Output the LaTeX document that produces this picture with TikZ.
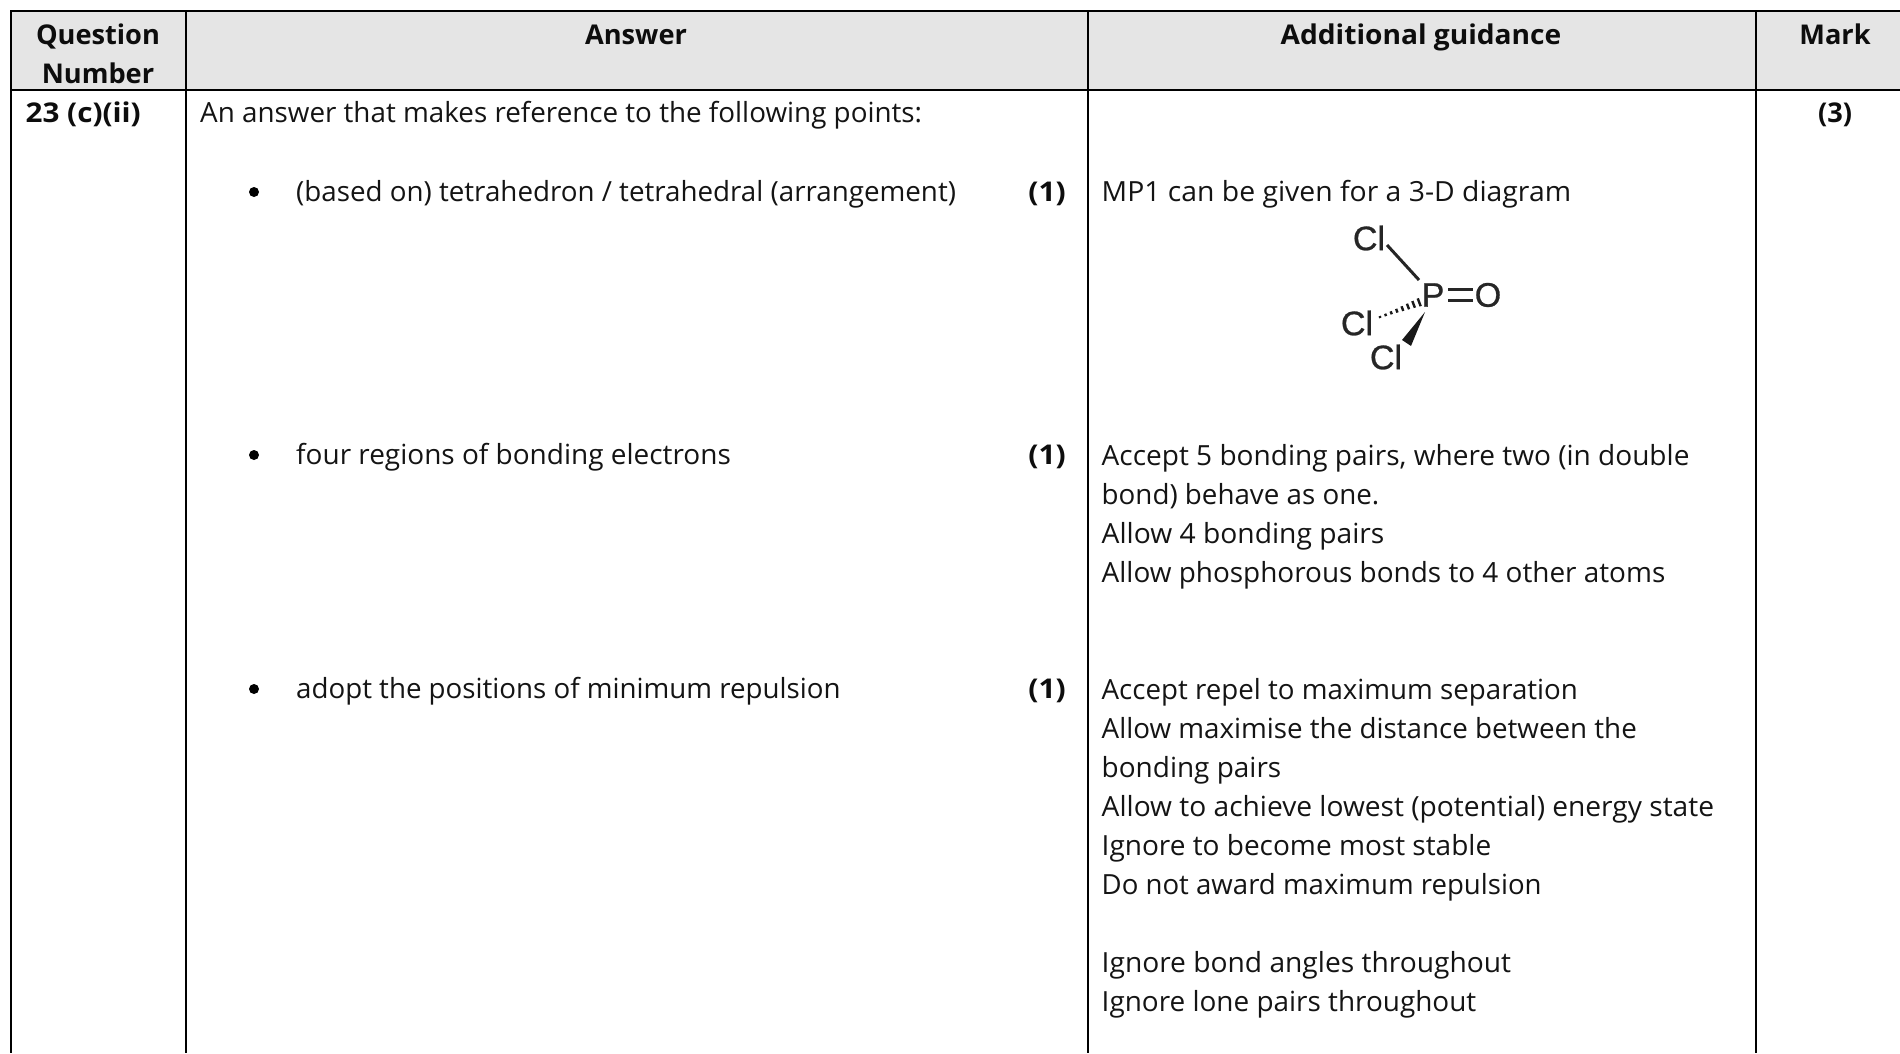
\documentclass[tikz,border=0pt]{standalone}
\usepackage{fontspec}
\usepackage{graphicx}
\setmainfont{Open Sans}
\newfontfamily\molfont[FakeBold=0.8]{Liberation Sans}
\tikzset{
  x=1pt,y=-1pt,
  rule/.style={line width=2.2pt,black,line cap=butt},
  txt/.style={anchor=base west,inner sep=0pt,text=black!92,font=\fontsize{27.75}{39}\selectfont},
  hdr/.style={anchor=base,inner sep=0pt,text=black!95,font=\fontsize{27.2}{39}\selectfont\bfseries},
  markr/.style={anchor=base east,inner sep=0pt,text=black!95,font=\fontsize{27.2}{39}\selectfont\bfseries},
  bul/.style={circle,fill=black,inner sep=0pt,minimum size=10pt},
  atom/.style={inner sep=0pt,text=black!85,font=\fontsize{34}{34}\selectfont\molfont},
  bond/.style={line width=3pt,black!85},
}
\begin{document}
\begin{tikzpicture}
\useasboundingbox (0,0) rectangle (1900,1053);
\fill[white] (0,0) rectangle (1900,1053);
\fill[black!10] (11,11) rectangle (1900,90);
% rules
\draw[rule] (1900,11) -- (10,11);
\draw[rule] (11,11) -- (11,1053);
\draw[rule] (186,11) -- (186,1053);
\draw[rule] (1088,11) -- (1088,1053);
\draw[rule] (1756,11) -- (1756,1053);
\draw[rule] (11,90) -- (1900,90);
% header
\node[hdr] (h1a) at (98,44) {Question};
\node[hdr] (h1b) at (98,83) {Number};
\node[hdr] (h2) at (636,44) {Answer};
\node[hdr] (h3) at (1421,44) {\scalebox{1.035}[1]{Additional guidance}};
\node[hdr] (h4) at (1835,44) {Mark};
% first row
\node[hdr,anchor=base west] (q) at (25.5,122) {\scalebox{1.09}[1]{23 (c)(ii)}};
\node[txt] (intro) at (200,122) {\scalebox{1.002}[1]{An answer that makes reference to the following points:}};
\node[hdr] (tot) at (1835,122) {(3)};
% answers
\node[bul] (b1) at (254,192) {};
\node[txt] (a1) at (296,201) {(based on) tetrahedron / tetrahedral (arrangement)};
\node[markr] (m1) at (1066,201) {\scalebox{1.1}[1]{(1)}};
\node[bul] (b2) at (254,455) {};
\node[txt] (a2) at (296,464) {\scalebox{1.008}[1]{four regions of bonding electrons}};
\node[markr] (m2) at (1066,464) {\scalebox{1.1}[1]{(1)}};
\node[bul] (b3) at (254,689) {};
\node[txt] (a3) at (296,698) {\scalebox{0.998}[1]{adopt the positions of minimum repulsion}};
\node[markr] (m3) at (1066,698) {\scalebox{1.1}[1]{(1)}};
% guidance
\node[txt] (g0) at (1101.5,201) {\scalebox{1.021}[1]{MP1 can be given for a 3-D diagram}};
\node[txt] (g1) at (1101.5,465) {\scalebox{1.010}[1]{Accept 5 bonding pairs, where two (in double}};
\node[txt] (g2) at (1101.5,504) {bond) behave as one.};
\node[txt] (g3) at (1101.5,543) {\scalebox{1.017}[1]{Allow 4 bonding pairs}};
\node[txt] (g4) at (1101.5,582) {\scalebox{1.006}[1]{Allow phosphorous bonds to 4 other atoms}};
\node[txt] (g5) at (1101.5,699) {\scalebox{0.998}[1]{Accept repel to maximum separation}};
\node[txt] (g6) at (1101.5,738) {Allow maximise the distance between the};
\node[txt] (g7) at (1101.5,777) {\scalebox{1.007}[1]{bonding pairs}};
\node[txt] (g8) at (1101.5,816) {\scalebox{1.014}[1]{Allow to achieve lowest (potential) energy state}};
\node[txt] (g9) at (1101.5,855) {\scalebox{1.009}[1]{Ignore to become most stable}};
\node[txt] (g10) at (1101.5,894) {\scalebox{0.994}[1]{Do not award maximum repulsion}};
\node[txt] (g11) at (1101.5,972) {\scalebox{1.015}[1]{Ignore bond angles throughout}};
\node[txt] (g12) at (1101.5,1011) {\scalebox{1.006}[1]{Ignore lone pairs throughout}};
% molecule
\node[atom] (p) at (1433,295) {P};
\node[atom] (o) at (1488,295) {O};
\node[atom] (cl1) at (1369,238) {Cl};
\node[atom] (cl2) at (1357,323) {Cl};
\node[atom] (cl3) at (1386,357) {Cl};
\coordinate (c1) at (1387,245); \coordinate (p1) at (1419,280);
\draw[bond] (c1) -- (p1);
\coordinate (d1) at (1448,289); \coordinate (d2) at (1473,289);
\coordinate (d3) at (1448,300); \coordinate (d4) at (1473,300);
\draw[bond] (d1) -- (d2);
\draw[bond] (d3) -- (d4);
\coordinate (wt) at (1425,312); \coordinate (wa) at (1402,340); \coordinate (wb) at (1411,346);
\fill[black!90] (wt) -- (wa) -- (wb) -- cycle;
\foreach \i/\hw in {0/1.0,1/1.3,2/1.6,3/2,4/2.5,5/3,6/3.6,7/4.2}{
  \pgfmathsetmacro{\xx}{1380+\i*5.6}
  \pgfmathsetmacro{\yy}{317-\i*2.1}
  \draw[black!90,line width=2.4pt] (\xx+0.35*\hw,\yy+0.93*\hw) -- (\xx-0.35*\hw,\yy-0.93*\hw);
}
\end{tikzpicture}
\end{document}
